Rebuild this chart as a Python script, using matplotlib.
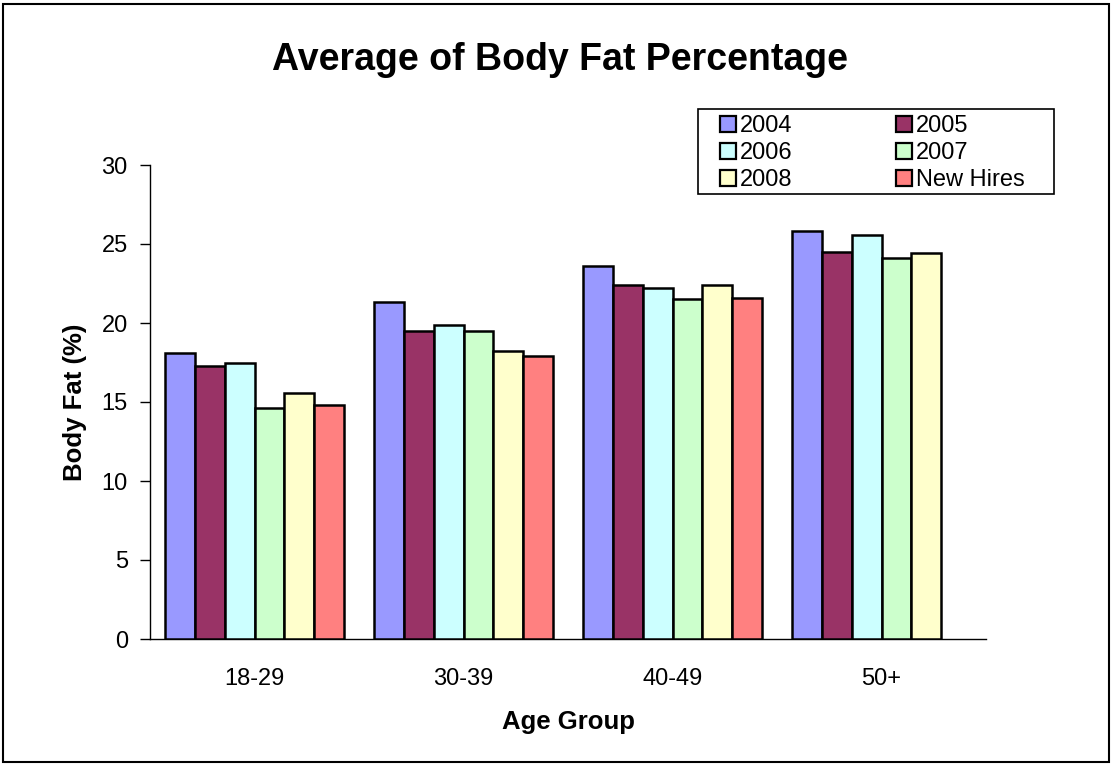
import numpy as np
import matplotlib
matplotlib.use("Agg")
import matplotlib.pyplot as plt
from matplotlib.patches import Rectangle, Patch

plt.rcParams['font.family'] = ['Liberation Sans', 'DejaVu Sans']

age_groups = ["18-29", "30-39", "40-49", "50+"]
series_names = ["2004", "2005", "2006", "2007", "2008", "New Hires"]
vals_2004 = [18.1, 21.3, 23.6, 25.8]
vals_2005 = [17.3, 19.5, 22.4, 24.5]
vals_2006 = [17.5, 19.9, 22.2, 25.6]
vals_2007 = [14.6, 19.5, 21.5, 24.1]
vals_2008 = [15.6, 18.2, 22.4, 24.4]
vals_new_hires = [14.8, 17.9, 21.6, np.nan]
series_colors = ["#9999FF", "#993366", "#CCFFFF", "#CCFFCC", "#FFFFCC", "#FF8080"]

all_series = [vals_2004, vals_2005, vals_2006, vals_2007, vals_2008, vals_new_hires]

W, H = 1113, 765
fig = plt.figure(figsize=(W / 100, H / 100), dpi=100)

# outer chart-area border
fig.patches.append(Rectangle((3 / W, 3 / H), 1106 / W, 758 / H, transform=fig.transFigure,
                             fill=False, edgecolor="black", linewidth=1.5))

ax_left, ax_bottom_px, ax_w, ax_h = 150, 639, 836, 474
ax = fig.add_axes([ax_left / W, (H - ax_bottom_px) / H, ax_w / W, ax_h / H])

n = len(all_series)
bw = 1.0 / (n + 1)
x = np.arange(len(age_groups))
for i, (vals, col) in enumerate(zip(all_series, series_colors)):
    offs = (i - (n - 1) / 2) * bw
    ax.bar(x + offs, vals, width=bw, color=col, edgecolor="black", linewidth=1.8, zorder=3)

ax.set_xlim(-0.5, len(age_groups) - 0.5)
ax.set_ylim(0, 30)
ax.set_yticks(np.arange(0, 31, 5))
ax.set_xticks(x)
ax.set_xticklabels(age_groups)
ax.tick_params(axis="y", direction="out", length=7, width=1, labelsize=17, pad=9)
ax.tick_params(axis="x", length=0, labelsize=17, pad=21)
for s in ["top", "right"]:
    ax.spines[s].set_visible(False)
for s in ["left", "bottom"]:
    ax.spines[s].set_linewidth(1)

ax.set_ylabel("Body Fat (%)", fontsize=18.5, fontweight="bold", va="center", ha="center")
ax.yaxis.set_label_coords((75 - ax_left) / ax_w, 0.5)
ax.set_xlabel("Age Group", fontsize=18.5, fontweight="bold", va="center", ha="center")
ax.xaxis.set_label_coords(0.5, (ax_bottom_px - 722) / ax_h)

fig.text(560 / W, 1 - 60 / H, "Average of Body Fat Percentage", ha="center", va="center",
         fontsize=27, fontweight="bold")

# legend box
fig.patches.append(Rectangle((698 / W, 1 - 194 / H), 356 / W, 85 / H, transform=fig.transFigure,
                             fill=True, facecolor="white", edgecolor="black", linewidth=1.2, zorder=4))

handles = [Patch(facecolor=c, edgecolor="black", linewidth=1.6) for c in series_colors]
# two columns read row-wise: 2004/2005, 2006/2007, 2008/New Hires
order = [0, 2, 4, 1, 3, 5]
leg = fig.legend([handles[i] for i in order], [series_names[i] for i in order],
                 loc="upper left", bbox_to_anchor=(720 / W, 1 - 115 / H), ncol=2,
                 fontsize=17, frameon=False,
                 handlelength=0.68, handleheight=0.68, handletextpad=0.15,
                 columnspacing=4.4, labelspacing=0.22, borderpad=0, borderaxespad=0)
leg.set_zorder(5)

fig.savefig("out.png", dpi=100)
